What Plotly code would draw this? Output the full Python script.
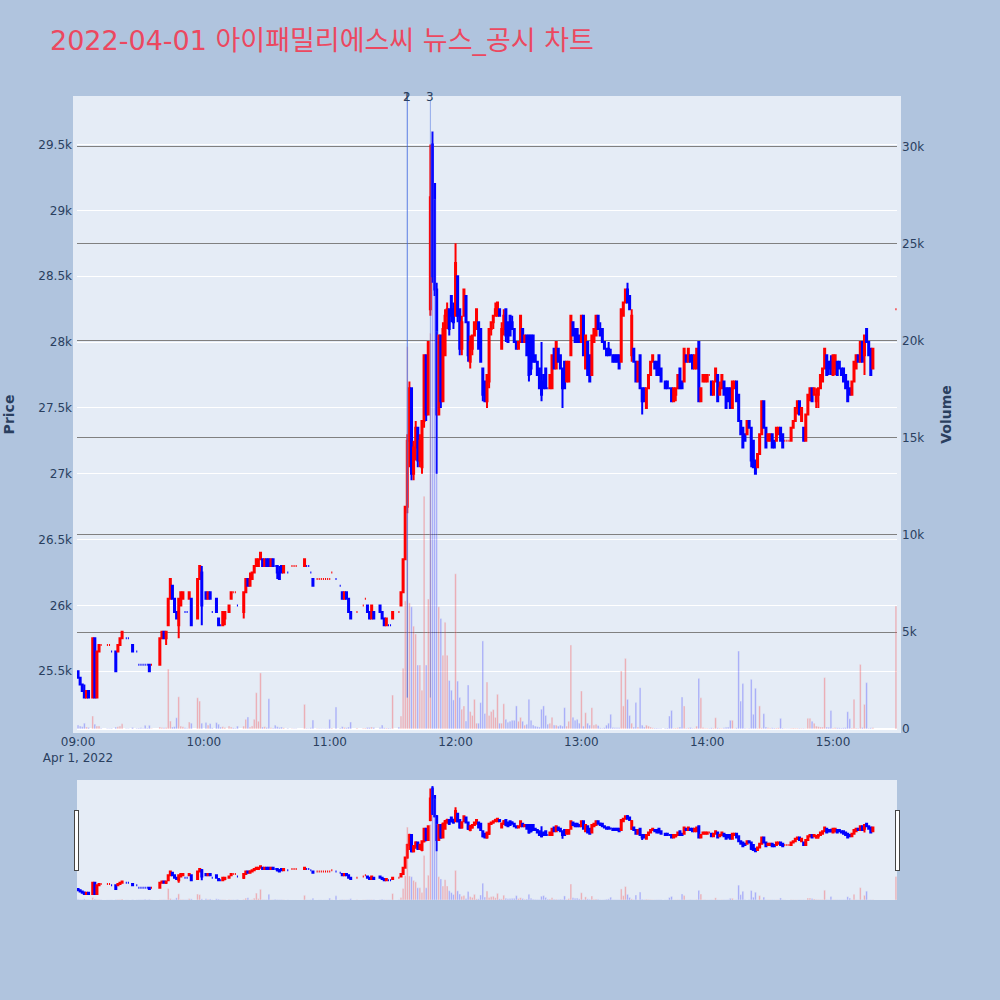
"""
    2022-04-01  iFamilySC minute chart with news / disclosure markers
"""

import plotly.graph_objects as go
from plotly.subplots import make_subplots

day = "2022-04-01"

# one bar per minute 09:00 .. 15:19, then the 15:30 closing auction
times = [f"{day} {9 + m // 60:02d}:{m % 60:02d}" for m in range(380)] + [f"{day} 15:30"]

opens = [
    25500, 25450, 25400, 25350, 25300, 25350, None, 25300, 25750, 25300,   # 09:00
    25650, 25700, None, None, 25700, 25700, 25650, None, 25650, 25650,
    25700, 25750, None, 25750, 25750, None, 25700, None, 25650, 25550,
    25550, 25550, 25550, 25550, 25550, 25550, None, None, None, 25550,
    25750, 25800, 25750, 25850, 26050, 26150, 26050, 25950, 25850, 26000,
    26050, 25950, 25950, 26050, 26050, None, None, 25900, 26200, 26250,
    None, 26100, 26050, 26100, 25950, None, 26050, 25900, 25850, 25850,    # 10:00
    25900, None, 25950, 26050, 26100, 26100, 26000, None, None, 25950,
    26100, 26200, 26150, 26200, 26250, 26300, 26300, 26350, 26350, 26300,
    26350, 26350, 26300, 26350, 26300, 26300, 26250, 26300, 26250, None,
    26250, None, 26300, 26300, 26300, None, None, None, 26300, 26300,
    26300, 26250, 26200, None, 26200, 26200, 26200, 26200, 26200, 26200,
    26200, 26250, None, 26200, None, 26150, 26100, 26050, 26100, 26050,    # 11:00
    25950, None, None, 25950, None, None, 26000, 26050, 26000, 25950,
    25900, 25950, None, None, 26000, 25950, 25900, 25850, 25850, 25850,
    25900, None, None, 25950, 26000, 26100, 26350, 26750, 27250, 27650,
    27000, 27200, 27350, 27100, 27050, 27400, 27900, 27450, 28250, 29500,
    29200, 28400, 27450, 28050, 27550, 27900, 28200, 28250, 28350, 28250,
    28200, 28500, 28250, 27950, 28200, 28350, 28150, 27850, 27950, 28050,  # 12:00
    28100, 28150, 28100, 27800, 27700, 27550, 27700, 28100, 28150, 28200,
    28200, 28250, 27950, 28100, 28250, 28150, 28200, 28150, 28100, 28000,
    27950, 28000, 28100, 28000, 28050, 28050, 28050, 28050, 27900, 27850,
    27800, 27700, 27750, 27800, 27650, 27650, 27650, 27950, 27800, 27950,
    27900, 27800, 27850, 27700, 27700, 27900, 28150, 28100, 28100, 28050,
    28000, 28200, 27800, 28000, 27900, 27750, 28000, 28050, 28200, 28100,  # 13:00
    28100, 28000, 27950, 27950, 27900, 27900, 27900, 27900, 27900, 27850,
    28200, 28300, 28400, 28350, 27900, 27950, 27850, 27700, 27900, 27650,
    27650, 27500, 27650, 27750, 27850, 27850, 27850, 27900, 27800, None,
    27700, 27700, 27650, 27650, 27550, 27600, 27650, 27800, 27700, 27700,
    27900, 27850, 27900, 27900, 27800, 27800, 28000, 27550, 27700, 27700,
    27700, 27750, 27700, 27600, 27700, 27750, 27600, 27650, 27700, 27650,  # 14:00
    27650, 27650, 27500, 27650, 27700, 27600, 27400, 27350, 27300, 27300,
    27400, 27350, 27250, 27100, 27050, 27150, 27300, 27550, 27350, 27250,
    27250, 27300, 27250, 27250, 27300, 27350, 27300, 27250, 27250, 27250,
    27250, 27350, 27400, 27500, 27550, 27400, 27350, 27250, 27450, 27600,
    27650, 27600, 27550, 27600, 27650, 27700, 27800, 27900, 27850, 27850,
    27750, 27800, 27850, 27850, 27800, 27800, 27750, 27700, 27650, 27600,  # 15:00
    27700, 27800, 27900, 27850, 28000, 27900, 28100, 28000, 27950, 27800,
    28250,                                                                 # 15:30
]

highs = [
    25500, 25450, 25400, 25400, 25350, 25350, None, 25750, 25750, 25650,
    25700, 25700, None, None, 25700, 25700, 25650, None, 25650, 25700,
    25750, 25800, None, 25750, 25750, None, 25700, None, 25650, 25550,
    25550, 25550, 25550, 25550, 25550, 25550, None, None, None, 25750,
    25800, 25800, 25800, 26050, 26200, 26150, 26050, 25950, 26050, 26100,
    26100, 25950, 25950, 26100, 26050, None, None, 26200, 26300, 26300,
    None, 26100, 26100, 26100, 25950, None, 26050, 25900, 25850, 25950,
    25950, None, 26000, 26100, 26100, 26100, 26000, None, None, 26100,
    26200, 26200, 26250, 26250, 26300, 26350, 26350, 26400, 26350, 26350,
    26350, 26350, 26350, 26350, 26300, 26300, 26300, 26300, 26300, None,
    26250, None, 26300, 26300, 26300, None, None, None, 26350, 26300,
    26300, 26250, 26200, None, 26200, 26200, 26200, 26200, 26200, 26200,
    26200, 26250, None, 26200, None, 26150, 26100, 26100, 26100, 26050,
    25950, None, None, 25950, None, None, 26000, 26050, 26000, 25950,
    26000, 25950, None, None, 26000, 25950, 25900, 25900, 25850, 25850,
    25950, None, None, 25950, 26100, 26350, 26750, 27300, 27700, 27650,
    27250, 27400, 27350, 27300, 27400, 27900, 27900, 28000, 29500, 29600,
    29200, 28450, 28050, 28050, 28150, 28250, 28300, 28250, 28350, 28300,
    28750, 28500, 28250, 28200, 28400, 28350, 28150, 28050, 28050, 28150,
    28250, 28150, 28100, 27800, 27700, 27750, 28100, 28150, 28200, 28300,
    28300, 28250, 28150, 28250, 28250, 28150, 28200, 28200, 28100, 28000,
    28000, 28200, 28100, 28050, 28050, 28050, 28050, 28050, 27900, 27850,
    27800, 28000, 27750, 27800, 27650, 27750, 27900, 27950, 28000, 27950,
    27900, 27800, 27850, 27850, 27850, 28200, 28150, 28100, 28100, 28050,
    28200, 28200, 28050, 28000, 27900, 28050, 28100, 28200, 28200, 28150,
    28100, 28000, 27950, 28000, 27950, 27900, 27900, 27900, 27900, 28250,
    28300, 28400, 28450, 28350, 28250, 27950, 27850, 27850, 27900, 27650,
    27650, 27650, 27750, 27850, 27900, 27850, 27850, 27900, 27800, None,
    27700, 27700, 27650, 27650, 27650, 27650, 27750, 27800, 27700, 27950,
    27900, 27950, 27900, 27900, 27900, 27950, 28000, 27650, 27750, 27750,
    27750, 27750, 27700, 27700, 27800, 27750, 27700, 27750, 27700, 27650,
    27650, 27650, 27700, 27700, 27700, 27600, 27400, 27350, 27300, 27400,
    27400, 27350, 27250, 27100, 27150, 27300, 27550, 27550, 27350, 27300,
    27300, 27300, 27250, 27350, 27350, 27350, 27300, 27250, 27250, 27250,
    27350, 27400, 27500, 27550, 27550, 27500, 27350, 27450, 27600, 27650,
    27650, 27650, 27650, 27650, 27750, 27800, 27950, 27900, 27850, 27900,
    27900, 27900, 27850, 27850, 27800, 27800, 27750, 27700, 27650, 27700,
    27850, 27900, 27900, 28000, 28000, 28050, 28100, 28000, 27950, 27950,
    28250,
]

lows = [
    25450, 25400, 25350, 25300, 25300, 25300, None, 25300, 25300, 25300,
    25650, 25700, None, None, 25700, 25700, 25650, None, 25500, 25650,
    25700, 25750, None, 25750, 25750, None, 25650, None, 25650, 25550,
    25550, 25550, 25550, 25550, 25500, 25550, None, None, None, 25550,
    25750, 25750, 25700, 25850, 26050, 26050, 25950, 25900, 25750, 26000,
    26050, 25950, 25950, 26050, 25850, None, None, 25900, 26200, 25850,
    None, 26050, 26050, 26050, 25950, None, 25950, 25850, 25850, 25850,
    25850, None, 25950, 26050, 26100, 26100, 26000, None, None, 25900,
    26100, 26150, 26150, 26200, 26250, 26300, 26300, 26350, 26300, 26300,
    26300, 26300, 26300, 26300, 26300, 26200, 26200, 26250, 26250, None,
    26250, None, 26300, 26300, 26300, None, None, None, 26300, 26300,
    26300, 26250, 26150, None, 26200, 26200, 26200, 26200, 26200, 26200,
    26200, 26250, None, 26200, None, 26150, 26050, 26050, 26050, 25950,
    25900, None, None, 25950, None, None, 26000, 26050, 25950, 25900,
    25900, 25900, None, None, 25950, 25900, 25850, 25850, 25850, 25850,
    25900, None, None, 25950, 26000, 26100, 26350, 26700, 27050, 26950,
    26950, 27100, 27050, 27050, 27000, 27350, 27400, 27450, 28200, 28450,
    28350, 27000, 27450, 27500, 27550, 27900, 28100, 28050, 28150, 28100,
    28200, 28150, 27900, 27900, 28200, 28150, 27850, 27800, 27900, 28050,
    28100, 27950, 27850, 27550, 27550, 27500, 27650, 28050, 28100, 28200,
    28200, 28200, 27950, 28050, 28000, 28000, 28050, 28100, 28000, 27950,
    27950, 28000, 28000, 28000, 27900, 27700, 27750, 27850, 27850, 27750,
    27650, 27550, 27650, 27650, 27650, 27650, 27650, 27800, 27800, 27850,
    27800, 27500, 27650, 27700, 27700, 27900, 28050, 28000, 28000, 28000,
    28000, 27900, 27800, 27750, 27700, 27750, 28000, 28050, 28100, 28050,
    28000, 27950, 27900, 27900, 27900, 27850, 27850, 27850, 27800, 27850,
    28200, 28300, 28300, 28250, 27850, 27850, 27700, 27700, 27650, 27450,
    27550, 27500, 27650, 27750, 27850, 27800, 27750, 27750, 27700, None,
    27650, 27650, 27650, 27550, 27550, 27550, 27650, 27650, 27650, 27700,
    27850, 27850, 27850, 27800, 27800, 27800, 27550, 27550, 27700, 27700,
    27700, 27750, 27600, 27600, 27700, 27550, 27600, 27650, 27600, 27500,
    27550, 27500, 27500, 27650, 27550, 27400, 27300, 27200, 27250, 27300,
    27350, 27050, 27050, 27000, 27050, 27150, 27300, 27350, 27200, 27250,
    27250, 27200, 27200, 27250, 27300, 27250, 27200, 27250, 27250, 27250,
    27250, 27350, 27400, 27450, 27450, 27400, 27250, 27250, 27450, 27550,
    27550, 27600, 27500, 27500, 27650, 27700, 27800, 27750, 27750, 27750,
    27750, 27750, 27750, 27800, 27750, 27700, 27650, 27550, 27600, 27600,
    27700, 27800, 27850, 27850, 27850, 27750, 28000, 27900, 27750, 27800,
    28250,
]

closes = [
    25450, 25400, 25350, 25300, 25350, 25300, None, 25750, 25300, 25650,
    25700, 25700, None, None, 25700, 25700, 25650, None, 25500, 25700,
    25750, 25800, None, 25750, 25750, None, 25650, None, 25650, 25550,
    25550, 25550, 25550, 25550, 25500, 25550, None, None, None, 25750,
    25800, 25750, 25800, 26050, 26200, 26050, 25950, 25900, 26050, 26100,
    26100, 25950, 25950, 26100, 25850, None, None, 26200, 26300, 26000,
    None, 26050, 26100, 26050, 25950, None, 25950, 25850, 25850, 25950,
    25950, None, 26000, 26100, 26100, 26100, 26000, None, None, 26100,
    26200, 26150, 26200, 26250, 26300, 26350, 26350, 26400, 26300, 26350,
    26300, 26300, 26350, 26300, 26300, 26250, 26200, 26250, 26300, None,
    26250, None, 26300, 26300, 26300, None, None, None, 26350, 26300,
    26300, 26250, 26150, None, 26200, 26200, 26200, 26200, 26200, 26200,
    26200, 26250, None, 26200, None, 26150, 26050, 26100, 26050, 25950,
    25900, None, None, 25950, None, None, 26000, 26050, 25950, 25900,
    26000, 25900, None, None, 25950, 25900, 25850, 25900, 25850, 25850,
    25950, None, None, 25950, 26100, 26350, 26750, 27250, 27650, 27000,
    27200, 27350, 27100, 27250, 27400, 27900, 27450, 28000, 29100, 28500,
    28400, 27450, 28050, 27550, 28100, 28200, 28250, 28100, 28200, 28150,
    28600, 28200, 27950, 28150, 28400, 28150, 27900, 28000, 28050, 28150,
    28250, 27950, 27850, 27600, 27550, 27750, 28100, 28150, 28200, 28250,
    28300, 28200, 28100, 28200, 28050, 28000, 28050, 28100, 28000, 27950,
    28000, 28200, 28000, 28050, 27900, 27750, 27800, 27850, 27850, 27750,
    27650, 27600, 27650, 27650, 27650, 27750, 27900, 27800, 28000, 27850,
    27800, 27650, 27650, 27850, 27850, 28200, 28050, 28000, 28000, 28000,
    28200, 27900, 28050, 27750, 27700, 28050, 28100, 28200, 28100, 28050,
    28000, 27950, 27900, 27900, 27900, 27850, 27850, 27850, 27800, 28250,
    28300, 28400, 28300, 28250, 28200, 27850, 27700, 27850, 27650, 27550,
    27550, 27650, 27750, 27850, 27900, 27800, 27750, 27750, 27700, None,
    27650, 27650, 27650, 27550, 27650, 27650, 27750, 27650, 27650, 27950,
    27850, 27950, 27850, 27800, 27900, 27950, 27550, 27650, 27750, 27750,
    27750, 27750, 27600, 27700, 27800, 27550, 27650, 27750, 27600, 27500,
    27550, 27500, 27700, 27700, 27550, 27400, 27300, 27200, 27250, 27400,
    27350, 27100, 27050, 27000, 27150, 27300, 27550, 27350, 27200, 27300,
    27300, 27200, 27200, 27350, 27350, 27250, 27200, 27250, 27250, 27250,
    27350, 27400, 27500, 27550, 27450, 27500, 27250, 27450, 27600, 27650,
    27550, 27650, 27600, 27650, 27750, 27800, 27950, 27750, 27800, 27800,
    27900, 27900, 27750, 27800, 27750, 27700, 27650, 27550, 27600, 27700,
    27850, 27900, 27850, 28000, 27850, 28050, 28000, 27900, 27750, 27950,
    28250,
]

volumes = [
    200, 150, 120, 300, 100, 80, None, 670, 250, 150,
    150, 40, None, None, 30, 30, 40, None, 100, 120,
    150, 270, None, 30, 30, None, 80, None, 40, 50,
    60, 40, 190, 50, 190, 30, None, None, None, 100,
    80, 60, 80, 3090, 410, 100, 120, 580, 1660, 150,
    120, 60, 40, 360, 300, None, None, 1610, 1440, 300,
    None, 330, 200, 280, 60, None, 330, 250, 100, 120,
    80, None, 150, 100, 60, 40, 150, None, None, 150,
    500, 620, 100, 150, 500, 1870, 400, 2890, 100, 120,
    80, 1560, 60, 50, 200, 120, 80, 100, 60, None,
    40, None, 30, 30, 30, None, None, None, 1270, 40,
    30, 60, 460, None, 30, 30, 30, 20, 30, 30,
    500, 50, None, 1130, None, 50, 120, 80, 60, 100,
    360, None, None, 50, None, None, 40, 50, 80, 80,
    100, 80, None, None, 80, 200, 60, 50, 50, 40,
    1750, None, None, 100, 670, 3130, 6600, 19700, 6500, 6300,
    5300, 4900, 3300, 3300, 2000, 12000, 3300, 6700, 20400, 30800,
    27300, 20500, 6300, 5700, 3800, 5500, 3800, 2500, 2000, 1500,
    8000, 2470, 1630, 1020, 1190, 410, 2270, 900, 700, 1530,
    300, 300, 1360, 4540, 800, 2420, 700, 900, 1000, 600,
    1790, 300, 300, 1300, 500, 350, 400, 450, 450, 1190,
    400, 600, 400, 200, 250, 1530, 450, 200, 150, 120,
    100, 1020, 1190, 700, 250, 300, 600, 200, 200, 150,
    200, 150, 1100, 150, 400, 4330, 600, 450, 500, 300,
    1960, 150, 840, 300, 200, 1100, 200, 250, 180, 60,
    40, 70, 200, 300, 760, 80, 60, 60, 60, 2990,
    1190, 3640, 1530, 700, 300, 100, 1360, 100, 2130, 200,
    100, 200, 150, 100, 60, 50, 50, 40, 40, None,
    40, 50, 670, 960, 40, 50, 60, 100, 1650, 1190,
    40, 60, 80, 40, 40, 150, 2610, 1610, 80, 40,
    40, 40, 60, 50, 580, 60, 50, 40, 60, 90,
    100, 450, 450, 30, 60, 4020, 1440, 2340, 40, 30,
    40, 2560, 760, 2100, 40, 1190, 60, 790, 100, 60,
    50, 60, 50, 50, 60, 550, 50, 30, 30, 30,
    40, 50, 40, 40, 40, 40, 40, 30, 550, 550,
    400, 300, 150, 120, 100, 100, 2650, 100, 90, 960,
    50, 60, 60, 60, 50, 60, 70, 890, 530, 50,
    1530, 50, 40, 3330, 80, 1270, 2390, 40, 60, 60,
    6340,
]

# news / disclosure items
news_times  = [f"{day} 11:37", f"{day} 11:37", f"{day} 11:48"]
news_labels = ["1", "2", "3"]

title_text = "2022-04-01 아이패밀리에스씨 뉴스_공시 차트"


def bar_colours(o, c):
    # same up/down rule the candlestick uses: flat bars compare with previous close
    out = []
    prev = None
    for oi, ci in zip(o, c):
        if oi is None:
            out.append("blue")
            continue
        up = ci > oi or (ci == oi and prev is not None and ci > prev)
        out.append("red" if up else "blue")
        prev = ci
    return out


def main():
    fig = make_subplots(specs=[[{"secondary_y": True}]])

    fig.add_trace(go.Candlestick(
        x=times, open=opens, high=highs, low=lows, close=closes,
        increasing_line_color="red", increasing_fillcolor="red",
        decreasing_line_color="blue", decreasing_fillcolor="blue",
        name="price", showlegend=False,
    ), secondary_y=False)

    fig.add_trace(go.Bar(
        x=times, y=volumes,
        marker_color=bar_colours(opens, closes), opacity=0.3,
        name="volume", showlegend=False,
    ), secondary_y=True)

    for t, lab in zip(news_times, news_labels):
        fig.add_shape(type="line", xref="x", yref="paper",
                      x0=t, x1=t, y0=0.05, y1=1.0,
                      line=dict(color="royalblue", width=1), opacity=0.5)
        fig.add_annotation(x=t, y=1.0, xref="x", yref="paper", text=lab,
                           showarrow=False, yanchor="middle", yshift=3,
                           font=dict(size=12, color="#2a3f5f"))

    fig.update_layout(
        width=1000, height=1000,
        title=dict(text=title_text, x=0.05, font=dict(size=27, color="rgb(236,72,96)")),
        font=dict(family="DejaVu Sans, Noto Sans CJK KR"),
        paper_bgcolor="lightsteelblue",
        margin=dict(l=77, r=103, t=100, b=100, pad=4),
        showlegend=False,
    )
    fig.update_xaxes(domain=[0, 1], showgrid=False, rangeslider_visible=True)
    fig.update_yaxes(title_text="<b>Price</b>", title_font_size=14, title_standoff=24,
                     ticks="", automargin=False, secondary_y=False)
    fig.update_yaxes(title_text="<b>Volume</b>", title_font_size=14, title_standoff=21,
                     ticks="", automargin=False,
                     showgrid=True, gridcolor="grey", gridwidth=1, secondary_y=True)

    fig.write_html("out.html", config={"displayModeBar": False},
                   post_script="document.body.style.margin = '0px';")


if __name__ == '__main__':
    main()
